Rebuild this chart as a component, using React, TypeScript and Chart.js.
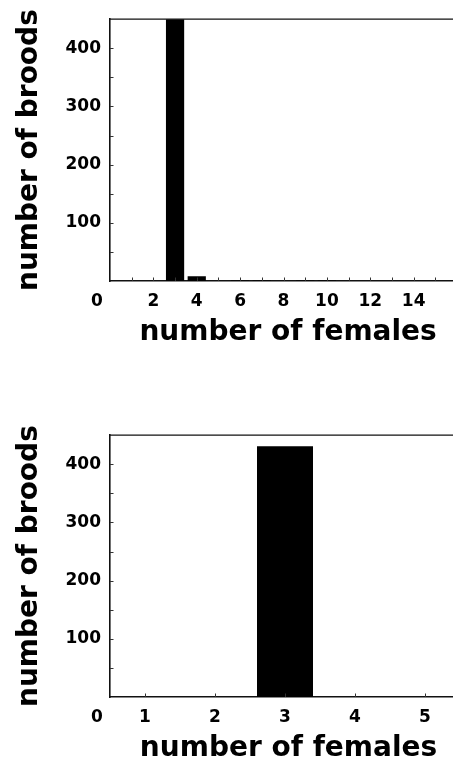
import React, { useEffect, useRef } from 'react';
import { Chart, registerables } from 'chart.js';

Chart.register(...registerables);

const FONT = 'DejaVu Sans';

// Top panel data
const topFemales = [3, 4, 6, 7, 9, 10];
const topBroods = [452, 8, 1, 1, 1, 1];
const topXTickLabels = [2, 4, 6, 8, 10, 12, 14];

// Bottom panel data
const bottomFemales = [1, 2, 3, 4, 5];
const bottomBroods = [0, 0, 431, 0, 0];
const bottomXTickLabels = [1, 2, 3, 4, 5];

const yTickLabels = [100, 200, 300, 400];
const originLabel = '0';
const xTitle = 'number of females';
const yTitle = 'number of broods';

const framePlugin = {
  id: 'frameTicks',
  afterDraw(chart: any) {
    const { ctx, chartArea: a, scales } = chart;
    const x = scales.x;
    const y = scales.y;
    ctx.save();
    ctx.strokeStyle = '#111';
    ctx.lineWidth = 1.2;
    ctx.beginPath();
    ctx.moveTo(a.left, a.top);
    ctx.lineTo(a.right, a.top);
    ctx.stroke();

    ctx.strokeStyle = '#333';
    ctx.lineWidth = 1;
    x.ticks.forEach((t: any) => {
      if (Number.isInteger(t.value) && t.value > x.min) {
        const px = Math.round(x.getPixelForValue(t.value)) + 0.5;
        ctx.beginPath();
        ctx.moveTo(px, a.bottom);
        ctx.lineTo(px, a.bottom - 3.5);
        ctx.stroke();
      }
    });
    y.ticks.forEach((t: any) => {
      if (t.value > 0 && t.value < y.max) {
        const py = Math.round(y.getPixelForValue(t.value)) + 0.5;
        ctx.beginPath();
        ctx.moveTo(a.left, py);
        ctx.lineTo(a.left + 3.5, py);
        ctx.stroke();
      }
    });

    ctx.fillStyle = '#000';
    ctx.font = `bold 17px "${FONT}"`;
    ctx.textAlign = 'center';
    ctx.textBaseline = 'middle';
    ctx.fillText(originLabel, a.left - 13, a.bottom + 10 + 10.2);
    ctx.restore();
  },
};

type PanelProps = {
  females: number[];
  broods: number[];
  xMin: number;
  xMax: number;
  xLabels: number[];
  barPct: number;
};

function Panel({ females, broods, xMin, xMax, xLabels, barPct }: PanelProps) {
  const ref = useRef<HTMLCanvasElement | null>(null);
  useEffect(() => {
    if (!ref.current) return;
    const tickFont = { family: FONT, size: 17, weight: 'bold' as const };
    const titleFont = { family: FONT, size: 28, weight: 'bold' as const };
    const chart = new Chart(ref.current, {
      type: 'bar',
      data: {
        datasets: [
          {
            data: females.map((f, i) => ({ x: f, y: broods[i] })),
            backgroundColor: '#000',
            borderWidth: 0,
            barPercentage: barPct,
            categoryPercentage: 1,
          },
        ],
      },
      options: {
        responsive: false,
        animation: false,
        devicePixelRatio: 1,
        layout: { padding: { top: 7, left: 0, right: 0, bottom: 0 } },
        plugins: {
          legend: { display: false },
          tooltip: { enabled: false },
        },
        scales: {
          x: {
            type: 'linear',
            min: xMin,
            max: xMax,
            offset: false,
            grid: { display: false, drawTicks: false, offset: false },
            border: { display: true, color: '#111', width: 1.6 },
            ticks: {
              stepSize: 1,
              includeBounds: false,
              autoSkip: false,
              maxRotation: 0,
              minRotation: 0,
              padding: 10,
              color: '#000',
              font: tickFont,
              callback: (v: any) => (xLabels.includes(Number(v)) ? String(v) : ''),
            },
            title: {
              display: true,
              text: xTitle,
              color: '#000',
              font: titleFont,
              padding: { top: 0, bottom: 2 },
            },
            afterFit: (s: any) => {
              s.height = 71;
            },
          },
          y: {
            type: 'linear',
            min: 0,
            max: 450,
            grid: { display: false, drawTicks: false },
            border: { display: true, color: '#111', width: 1.6 },
            ticks: {
              stepSize: 50,
              autoSkip: false,
              padding: 9,
              color: '#000',
              font: tickFont,
              callback: (v: any) => (yTickLabels.includes(Number(v)) ? String(v) : ''),
            },
            title: {
              display: true,
              text: yTitle,
              color: '#000',
              font: titleFont,
              padding: { top: 13, bottom: 0 },
            },
            afterFit: (s: any) => {
              s.width = 110;
            },
          },
        },
      } as any,
      plugins: [framePlugin],
    });
    return () => chart.destroy();
  }, [females, broods, xMin, xMax, xLabels, barPct]);
  return <canvas ref={ref} width={467} height={352} style={{ display: 'block', width: 467, height: 352 }} />;
}

export default function App() {
  return (
    <div
      style={{
        position: 'absolute',
        left: 0,
        top: 0,
        width: 453,
        height: 764,
        overflow: 'hidden',
        background: '#fff',
      }}
    >
      <div style={{ position: 'absolute', left: 0, top: 0 }}>
        <Panel
          females={topFemales}
          broods={topBroods}
          xMin={0}
          xMax={16.42}
          xLabels={topXTickLabels}
          barPct={0.84}
        />
      </div>
      <div style={{ position: 'absolute', left: 0, top: 416 }}>
        <Panel
          females={bottomFemales}
          broods={bottomBroods}
          xMin={0.5}
          xMax={5.6}
          xLabels={bottomXTickLabels}
          barPct={0.8}
        />
      </div>
    </div>
  );
}
